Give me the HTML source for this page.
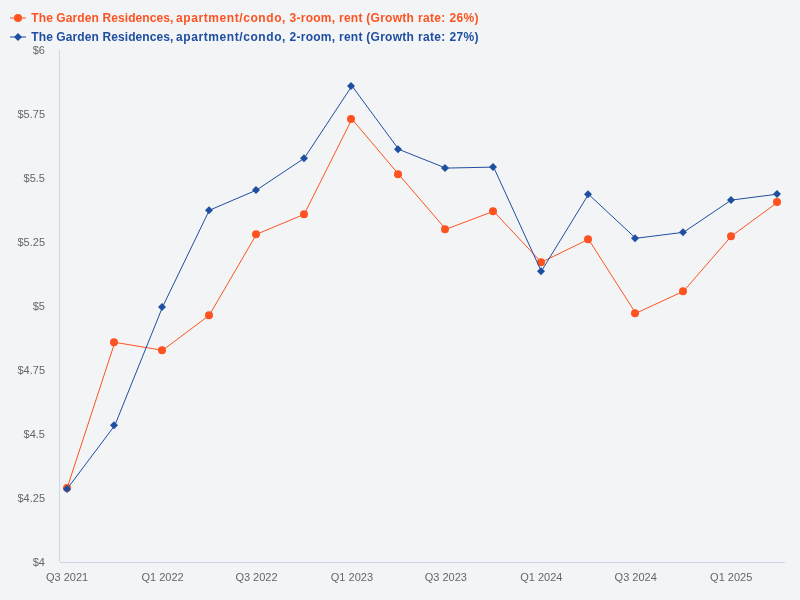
<!DOCTYPE html>
<html><head><meta charset="utf-8"><title>Chart</title>
<style>
html,body{margin:0;padding:0;background:#f3f4f6;}
body{width:800px;height:600px;overflow:hidden;font-family:"Liberation Sans",sans-serif;}
svg{display:block;will-change:transform;}
.ax{font-size:11px;fill:#666666;}
.lg{font-size:12px;font-weight:bold;}
</style></head><body>
<svg width="800" height="600" viewBox="0 0 800 600" font-family="'Liberation Sans', sans-serif">
<rect width="800" height="600" fill="#f3f4f6"/>
<path d="M59.5 50V562" stroke="#ccd6eb" stroke-width="1" fill="none"/>
<path d="M60 562.5H785" stroke="#ccd6eb" stroke-width="1" fill="none"/>
<g class="ax" text-anchor="end">
<text x="45" y="54">$6</text><text x="45" y="118">$5.75</text><text x="45" y="182">$5.5</text><text x="45" y="246">$5.25</text><text x="45" y="310">$5</text><text x="45" y="374">$4.75</text><text x="45" y="438">$4.5</text><text x="45" y="502">$4.25</text><text x="45" y="566">$4</text>
</g>
<g class="ax" text-anchor="middle">
<text x="67.1" y="581">Q3 2021</text><text x="162.6" y="581">Q1 2022</text><text x="256.5" y="581">Q3 2022</text><text x="351.9" y="581">Q1 2023</text><text x="445.8" y="581">Q3 2023</text><text x="541.3" y="581">Q1 2024</text><text x="635.7" y="581">Q3 2024</text><text x="731.2" y="581">Q1 2025</text>
</g>
<g>
<path d="M67.11 488.1 L114.84 342.3 L162.57 350.3 L209.27 315.3 L256.48 234.3 L304.21 214.3 L351.94 119.1 L398.64 174.3 L445.85 229.3 L493.58 211.3 L541.31 262.3 L588.52 239.3 L635.74 313.3 L683.47 291.3 L731.20 236.3 L777.89 202.1" stroke="#fe5321" stroke-width="1" fill="none" stroke-linejoin="round" stroke-linecap="round"/>
<g fill="#fe5321"><circle cx="67.0" cy="488.1" r="4"/><circle cx="114.0" cy="342.3" r="4"/><circle cx="162.0" cy="350.3" r="4"/><circle cx="209.0" cy="315.3" r="4"/><circle cx="256.0" cy="234.3" r="4"/><circle cx="304.0" cy="214.3" r="4"/><circle cx="351.0" cy="119.1" r="4"/><circle cx="398.0" cy="174.3" r="4"/><circle cx="445.0" cy="229.3" r="4"/><circle cx="493.0" cy="211.3" r="4"/><circle cx="541.0" cy="262.3" r="4"/><circle cx="588.0" cy="239.3" r="4"/><circle cx="635.0" cy="313.3" r="4"/><circle cx="683.0" cy="291.3" r="4"/><circle cx="731.0" cy="236.3" r="4"/><circle cx="777.0" cy="202.1" r="4"/></g>
</g>
<g>
<path d="M67.11 488.9 L114.84 425.3 L162.57 306.9 L209.27 210.3 L256.48 190.1 L304.21 158.3 L351.94 85.9 L398.64 149.3 L445.85 168.1 L493.58 167.1 L541.31 271.3 L588.52 194.3 L635.74 238.3 L683.47 232.3 L731.20 200.1 L777.89 194.1" stroke="#1f4fa0" stroke-width="1" fill="none" stroke-linejoin="round" stroke-linecap="round"/>
<g fill="#1f4fa0"><path d="M67.0 484.9L71.0 488.9L67.0 492.9L63.0 488.9Z"/><path d="M114.0 421.3L118.0 425.3L114.0 429.3L110.0 425.3Z"/><path d="M162.0 302.9L166.0 306.9L162.0 310.9L158.0 306.9Z"/><path d="M209.0 206.3L213.0 210.3L209.0 214.3L205.0 210.3Z"/><path d="M256.0 186.1L260.0 190.1L256.0 194.1L252.0 190.1Z"/><path d="M304.0 154.3L308.0 158.3L304.0 162.3L300.0 158.3Z"/><path d="M351.0 81.9L355.0 85.9L351.0 89.9L347.0 85.9Z"/><path d="M398.0 145.3L402.0 149.3L398.0 153.3L394.0 149.3Z"/><path d="M445.0 164.1L449.0 168.1L445.0 172.1L441.0 168.1Z"/><path d="M493.0 163.1L497.0 167.1L493.0 171.1L489.0 167.1Z"/><path d="M541.0 267.3L545.0 271.3L541.0 275.3L537.0 271.3Z"/><path d="M588.0 190.3L592.0 194.3L588.0 198.3L584.0 194.3Z"/><path d="M635.0 234.3L639.0 238.3L635.0 242.3L631.0 238.3Z"/><path d="M683.0 228.3L687.0 232.3L683.0 236.3L679.0 232.3Z"/><path d="M731.0 196.1L735.0 200.1L731.0 204.1L727.0 200.1Z"/><path d="M777.0 190.1L781.0 194.1L777.0 198.1L773.0 194.1Z"/></g>
</g>
<g class="lg">
<path d="M10 18H26" stroke="#fe5321" stroke-width="1"/><circle cx="18" cy="18" r="4" fill="#fe5321"/>
<text id="l1" y="22" fill="#fe5321"><tspan x="31.3" letter-spacing="0.10">The Garden Residences, </tspan><tspan x="176" letter-spacing="0.58">apartment/condo, </tspan><tspan x="289.5" letter-spacing="0.265">3-room, rent (Growth </tspan><tspan x="418" letter-spacing="0.30">rate: </tspan><tspan x="449.6" letter-spacing="0.30">26%)</tspan></text>
<path d="M10 37H26" stroke="#1f4fa0" stroke-width="1"/><path d="M18 33L22 37L18 41L14 37Z" fill="#1f4fa0"/>
<text id="l2" y="41" fill="#1f4fa0"><tspan x="31.3" letter-spacing="0.10">The Garden Residences, </tspan><tspan x="176" letter-spacing="0.58">apartment/condo, </tspan><tspan x="289.5" letter-spacing="0.265">2-room, rent (Growth </tspan><tspan x="418" letter-spacing="0.30">rate: </tspan><tspan x="449.6" letter-spacing="0.30">27%)</tspan></text>
</g>
</svg>
</body></html>
